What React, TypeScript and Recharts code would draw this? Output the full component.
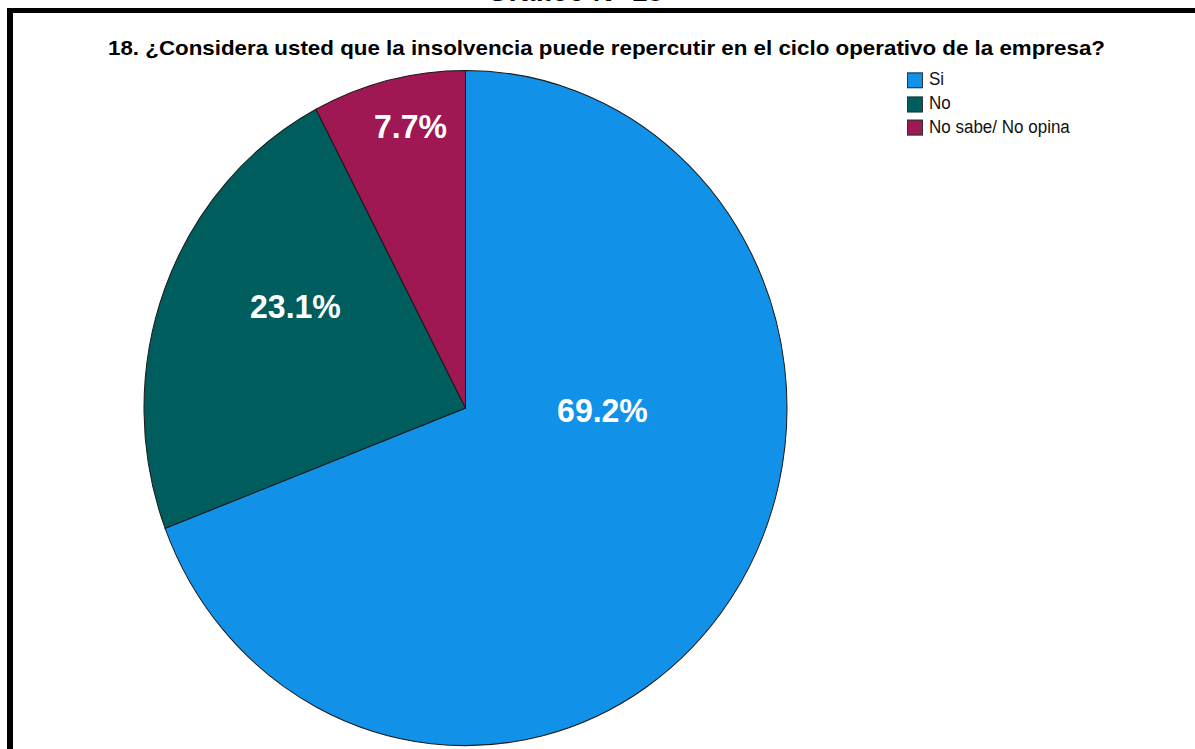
import React from "react";
import { PieChart, Pie, Cell, Legend } from "recharts";

// Gráfico N° 18 — SPSS style pie, source image is stretched vertically ~5%
const HEADER = "Gráfico N° 18";
const TITLE =
  "18. ¿Considera usted que la insolvencia puede repercutir en el ciclo operativo de la empresa?";
const CATEGORIES = ["Si", "No", "No sabe/ No opina"];
const PERCENTS = [69.2, 23.1, 7.7];
const COLORS = ["#1192e8", "#005d5d", "#9f1853"];

// label centres as fractions of the radius from the pie centre (SPSS places them its own way)
const LABEL_OFFSETS: [number, number][] = [
  [0.426, 0.006],
  [-0.529, -0.302],
  [-0.171, -0.835],
];

const STRETCH = 1.05;
const W = 1195;
const H = 749;
const FONT = "'Liberation Sans', Arial, Helvetica, sans-serif";

const data = CATEGORIES.map((name, i) => ({
  name,
  value: PERCENTS[i],
  fill: COLORS[i],
}));

function SliceLabel(props: any) {
  const { cx, cy, outerRadius, index, value } = props;
  const [fx, fy] = LABEL_OFFSETS[index] ?? [0, 0];
  return (
    <text
      x={cx + fx * outerRadius}
      y={cy + fy * outerRadius}
      fill="#ffffff"
      textAnchor="middle"
      dominantBaseline="central"
      fontFamily={FONT}
      fontWeight="bold"
      fontSize={32}
    >
      {`${Number(value).toFixed(1)}%`}
    </text>
  );
}

function LegendBox(props: any) {
  // keep the category order of the data, not alphabetical
  const payload = [...(props.payload ?? [])].sort(
    (a: any, b: any) =>
      CATEGORIES.indexOf(String(a.value)) - CATEGORIES.indexOf(String(b.value))
  );
  return (
    <div style={{ display: "flex", flexDirection: "column" }}>
      {payload.map((e: any, i: number) => (
        <div
          key={i}
          style={{ display: "flex", alignItems: "center", height: 22.9 }}
        >
          <span
            style={{
              display: "inline-block",
              width: 16,
              height: 15,
              background: e.color,
              border: "1px solid #333",
              boxSizing: "border-box",
              marginRight: 6,
            }}
          />
          <span
            style={{
              fontFamily: FONT,
              fontSize: 17,
              color: "#111",
              whiteSpace: "nowrap",
            }}
          >
            {e.value}
          </span>
        </div>
      ))}
    </div>
  );
}

export default function App() {
  return (
    <div
      style={{
        position: "absolute",
        left: 0,
        top: 0,
        width: W,
        height: H,
        overflow: "hidden",
        background: "#fff",
      }}
    >
      {/* frame: only the left and top edges are in view */}
      <div
        style={{
          position: "absolute",
          left: 7,
          top: 8,
          width: 1400,
          height: 1000,
          borderLeft: "6px solid #000",
          borderTop: "5px solid #000",
        }}
      />
      <div
        style={{
          position: "absolute",
          left: 0,
          top: 0,
          width: W,
          height: H / STRETCH,
          transform: `scaleY(${STRETCH})`,
          transformOrigin: "0 0",
        }}
      >
        <svg
          width={W}
          height={80}
          style={{ position: "absolute", left: 0, top: 0, overflow: "visible" }}
        >
          <text
            x={575}
            y={1.2}
            textAnchor="middle"
            fontFamily={FONT}
            fontWeight="bold"
            fontSize={28}
            fill="#000"
          >
            {HEADER}
          </text>
          <text
            x={606.5}
            y={52.4}
            textAnchor="middle"
            fontFamily={FONT}
            fontWeight="bold"
            fontSize={19}
            fill="#000"
            textLength={997}
            lengthAdjust="spacingAndGlyphs"
          >
            {TITLE}
          </text>
        </svg>
        <div style={{ position: "absolute", left: 0, top: 0 }}>
          <PieChart
            width={W}
            height={H}
            margin={{ top: 0, right: 0, bottom: 0, left: 0 }}
          >
            <Pie
              data={data}
              dataKey="value"
              nameKey="name"
              cx={465.5}
              cy={388.6}
              outerRadius={321.5}
              startAngle={90}
              endAngle={-270}
              stroke="#1a1a1a"
              strokeWidth={1}
              label={SliceLabel}
              labelLine={false}
              isAnimationActive={false}
            >
              {data.map((d, i) => (
                <Cell key={i} fill={d.fill} />
              ))}
            </Pie>
            <Legend
              layout="vertical"
              verticalAlign="middle"
              align="center"
              content={<LegendBox />}
              wrapperStyle={{ left: 907, top: 64.7, width: 220 }}
            />
          </PieChart>
        </div>
      </div>
    </div>
  );
}
